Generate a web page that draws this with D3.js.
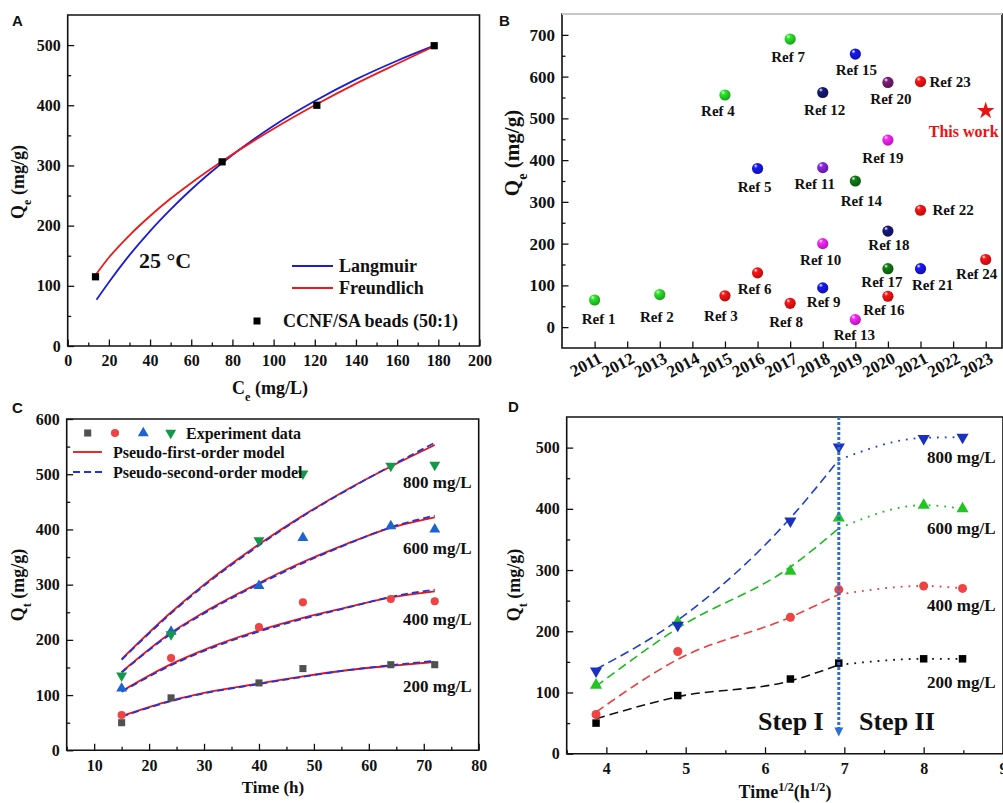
<!DOCTYPE html>
<html>
<head>
<meta charset="utf-8">
<script src="https://cdn.jsdelivr.net/npm/d3@7"></script>
<style>
body { margin: 0; background: #fff; }
</style>
</head>
<body>
<svg id="fig" width="1003" height="803"></svg>
<script>
const SERIF = '"Liberation Serif","Times New Roman",serif';
const SANS = '"Liberation Sans",Arial,sans-serif';

// ---------------- data ----------------
// A: adsorption isotherm at 25 °C
const isoCe = [13.5, 75, 121, 178];
const isoQe = [115, 306, 400, 499];
const fitCe = [14, 20, 30, 40, 50, 60, 75, 100, 120, 140, 160, 178];
const langmuirQe = [77, 106, 151, 191, 227, 260, 304, 366, 407, 443, 474, 499];
const freundlichQe = [120, 147, 184, 216, 245, 271, 307, 361, 400, 436, 469, 498];

// B: comparison with literature
const refNames = ['Ref 1', 'Ref 2', 'Ref 3', 'Ref 4', 'Ref 5', 'Ref 6', 'Ref 7', 'Ref 8',
  'Ref 9', 'Ref 10', 'Ref 11', 'Ref 12', 'Ref 13', 'Ref 14', 'Ref 15', 'Ref 16',
  'Ref 17', 'Ref 18', 'Ref 19', 'Ref 20', 'Ref 21', 'Ref 22', 'Ref 23', 'Ref 24'];
const refYears = [2011, 2013, 2015, 2015, 2016, 2016, 2017, 2017, 2018, 2018, 2018, 2018,
  2019, 2019, 2019, 2020, 2020, 2020, 2020, 2020, 2021, 2021, 2021, 2023];
const refQe = [65, 78, 75, 556, 380, 130, 690, 57, 94, 200, 382, 562,
  18, 350, 654, 74, 140, 230, 448, 586, 140, 280, 588, 162];
const thisWork = { year: 2023, qe: 518, label: 'This work' };
const yearTicks = ['2011', '2012', '2013', '2014', '2015', '2016', '2017', '2018',
  '2019', '2020', '2021', '2022', '2023'];

// C & D: adsorption kinetics
const concLabels = ['200 mg/L', '400 mg/L', '600 mg/L', '800 mg/L'];
const kinTime = [15, 24, 40, 48, 64, 72];
const kinSqrtTime = [3.87, 4.90, 6.32, 6.93, 8.00, 8.49];
const qt200 = [50, 95, 122, 148, 155, 155];
const qt400 = [64, 167, 223, 268, 274, 270];
const qt600 = [112, 215, 298, 385, 406, 400];
const qt800 = [135, 210, 380, 501, 515, 517];

const fitTime = [15, 24, 30, 40, 48, 56, 64, 72];
const pfo200 = [62, 90, 104, 121, 134, 145, 153, 160];
const pfo400 = [107, 156, 182, 217, 240, 259, 277, 288];
const pfo600 = [142, 213, 250, 303, 341, 374, 403, 422];
const pfo800 = [165, 250, 300, 373, 425, 472, 514, 553];
const pso200 = [61, 89, 103, 120, 133, 145, 154, 162];
const pso400 = [106, 154, 180, 215, 238, 258, 278, 291];
const pso600 = [141, 211, 248, 301, 339, 373, 404, 425];
const pso800 = [164, 248, 298, 371, 424, 471, 515, 557];

// D: intraparticle diffusion, step I (dashed) and step II (dotted)
const stepIx = [3.87, 4.90, 6.32, 6.93];
const stepI200 = [57, 93, 119, 145];
const stepI400 = [68, 154, 223, 260];
const stepI600 = [110, 205, 305, 368];
const stepI800 = [138, 218, 385, 480];
const stepIIx = [6.93, 8.00, 8.49];
const stepII200 = [145, 155, 155];
const stepII400 = [260, 274, 270];
const stepII600 = [368, 406, 400];
const stepII800 = [480, 516, 517];
const stepBoundary = 6.93;

// ---------------- styles / layout ----------------
const G = '#22cc22', R = '#ee1111', BL = '#1515dd', N = '#15156e',
      M = '#e61ee6', V = '#7a22cc', DG = '#0f6e12', P = '#6e1a6a';
const refColor = [G, G, R, G, BL, R, G, R, BL, M, V, N, M, DG, BL, R, DG, N, M, P, BL, R, R, R];
// label offset from its sphere: [dx, dy, anchor]
const refLabelShift = [[4, 19], [-3, 22], [-4, 20], [-7, 16], [-3, 18], [-3, 16], [-2, 18],
  [-4, 18], [1, 14], [-2, 16], [-8, 16], [2, 17], [-1, 15], [6, 20], [1, 16], [-4, 14],
  [-6, 13], [1, 14], [-5, 18], [3, 16], [12, 16], [12, 0, 'start'], [9, 0, 'start'], [-9, 14]];

const svg = d3.select('#fig');

// framed plot with inward major/minor ticks
function addAxes(g, x, y, o) {
  const bottom = y.range()[0], top = y.range()[1];
  const left = x.range()[0], right = x.range()[1];
  const style = function(sel) {
    sel.select('.domain').remove();
    sel.selectAll('line').attr('stroke', '#111').attr('stroke-width', 1.3);
    sel.selectAll('text').attr('font-family', SERIF).attr('font-weight', 'bold')
      .attr('font-size', o.fs || 16).attr('fill', '#111');
  };
  g.append('g').attr('transform', `translate(0,${bottom})`)
    .call(d3.axisBottom(x).tickValues(o.xMinor).tickSize(-3.5).tickFormat(() => ''))
    .call(style);
  const xa = g.append('g').attr('transform', `translate(0,${bottom})`)
    .call(d3.axisBottom(x).tickValues(o.xMajor).tickSize(-6.5).tickPadding(o.xPad || 9)
      .tickFormat(o.xFmt || (d => d)))
    .call(style);
  g.append('g').attr('transform', `translate(${left},0)`)
    .call(d3.axisLeft(y).tickValues(o.yMinor).tickSize(-3.5).tickFormat(() => ''))
    .call(style);
  g.append('g').attr('transform', `translate(${left},0)`)
    .call(d3.axisLeft(y).tickValues(o.yMajor).tickSize(-6.5).tickPadding(7).tickFormat(d => d))
    .call(style);
  g.append('path')
    .attr('d', `M${left},${top}H${right}V${bottom}H${left}Z`)
    .attr('fill', 'none').attr('stroke', '#111').attr('stroke-width', 1.6);
  if (o.topColor) {
    g.append('line').attr('x1', left).attr('x2', right).attr('y1', top).attr('y2', top)
      .attr('stroke', o.topColor).attr('stroke-width', 2);
  }
  return xa;
}

// text with sub/superscript parts: [[string, 'sub'|'super'|null], ...]
function richText(g, x, y, parts, fs, rotate) {
  const t = g.append('text')
    .attr('transform', `translate(${x},${y})` + (rotate ? ` rotate(${rotate})` : ''))
    .attr('text-anchor', 'middle')
    .attr('font-family', SERIF).attr('font-weight', 'bold').attr('font-size', fs)
    .attr('fill', '#111');
  parts.forEach(function(p) {
    const s = t.append('tspan').text(p[0]);
    if (p[1]) s.attr('baseline-shift', p[1]).attr('font-size', fs * 0.68);
  });
  return t;
}

function plainText(g, x, y, str, fs, anchor, color) {
  return g.append('text').attr('x', x).attr('y', y)
    .attr('text-anchor', anchor || 'start')
    .attr('font-family', SERIF).attr('font-weight', 'bold').attr('font-size', fs)
    .attr('fill', color || '#111').text(str);
}

function panelLetter(x, y, s) {
  svg.append('text').attr('x', x).attr('y', y)
    .attr('font-family', SANS).attr('font-weight', 'bold').attr('font-size', 15)
    .attr('fill', '#111').text(s);
}

const sym = function(type, size) { return d3.symbol().type(type).size(size)(); };

// ---------------- panel A ----------------
(function() {
  const g = svg.append('g');
  const x = d3.scaleLinear().domain([0, 200]).range([67.7, 479.5]);
  const y = d3.scaleLinear().domain([0, 550]).range([346, 15]);
  addAxes(g, x, y, {
    xMajor: d3.range(0, 201, 20), xMinor: d3.range(10, 200, 20),
    yMajor: d3.range(0, 501, 100), yMinor: d3.range(50, 550, 100)
  });
  const line = d3.line().x(d => x(d[0])).y(d => y(d[1])).curve(d3.curveMonotoneX);
  g.append('path').attr('d', line(d3.zip(fitCe, langmuirQe)))
    .attr('fill', 'none').attr('stroke', '#1c1cd6').attr('stroke-width', 1.8);
  g.append('path').attr('d', line(d3.zip(fitCe, freundlichQe)))
    .attr('fill', 'none').attr('stroke', '#ee1a1a').attr('stroke-width', 1.8);
  g.selectAll('rect.pt').data(d3.zip(isoCe, isoQe)).enter().append('rect')
    .attr('class', 'pt')
    .attr('x', d => x(d[0]) - 3.6).attr('y', d => y(d[1]) - 3.6)
    .attr('width', 7.2).attr('height', 7.2).attr('fill', '#000');

  plainText(g, 139, 268, '25 °C', 22);
  g.append('line').attr('x1', 292).attr('x2', 333).attr('y1', 266).attr('y2', 266)
    .attr('stroke', '#1c1cd6').attr('stroke-width', 1.8);
  plainText(g, 339, 272, 'Langmuir', 18);
  g.append('line').attr('x1', 292).attr('x2', 333).attr('y1', 288).attr('y2', 288)
    .attr('stroke', '#ee1a1a').attr('stroke-width', 1.8);
  plainText(g, 339, 294, 'Freundlich', 18);
  g.append('rect').attr('x', 253.5).attr('y', 317.5).attr('width', 7).attr('height', 7).attr('fill', '#000');
  plainText(g, 283, 327, 'CCNF/SA beads (50:1)', 18);

  richText(g, 24, 182, [['Q'], ['e', 'sub'], [' (mg/g)']], 18, -90);
  richText(g, 270, 394, [['C'], ['e', 'sub'], [' (mg/L)']], 18);
  panelLetter(12, 26, 'A');
})();

// ---------------- panel B ----------------
(function() {
  const g = svg.append('g');
  const x = d3.scaleLinear().domain([2010, 2023.5]).range([562, 1002]);
  const y = d3.scaleLinear().domain([-50, 750]).range([348, 14]);
  const xa = addAxes(g, x, y, {
    xMajor: yearTicks.map(Number), xMinor: [], xFmt: d => String(d),
    yMajor: d3.range(0, 701, 100), yMinor: d3.range(50, 701, 100),
    fs: 17, topColor: '#c8c8c8'
  });
  xa.selectAll('.tick text')
    .attr('text-anchor', 'end').attr('dy', null).attr('y', null)
    .attr('transform', 'translate(8,14) rotate(-28)');

  const defs = svg.append('defs');
  Array.from(new Set(refColor)).forEach(function(c, i) {
    const gr = defs.append('radialGradient').attr('id', 'ball' + c.slice(1))
      .attr('cx', '40%').attr('cy', '35%').attr('r', '65%').attr('fx', '32%').attr('fy', '26%');
    gr.append('stop').attr('offset', '0%').attr('stop-color', '#ffffff');
    gr.append('stop').attr('offset', '28%').attr('stop-color', d3.color(c).brighter(0.4));
    gr.append('stop').attr('offset', '100%').attr('stop-color', d3.color(c).darker(0.7));
  });

  const refs = refNames.map((n, i) => ({
    name: n, year: refYears[i], qe: refQe[i], color: refColor[i], shift: refLabelShift[i]
  }));
  g.selectAll('circle.ref').data(refs).enter().append('circle')
    .attr('class', 'ref')
    .attr('cx', d => x(d.year)).attr('cy', d => y(d.qe)).attr('r', 5.6)
    .attr('fill', d => `url(#ball${d.color.slice(1)})`);
  g.selectAll('text.ref').data(refs).enter().append('text')
    .attr('class', 'ref')
    .attr('x', d => x(d.year) + d.shift[0]).attr('y', d => y(d.qe) + d.shift[1])
    .attr('dy', '0.35em')
    .attr('text-anchor', d => d.shift[2] || 'middle')
    .attr('font-family', SERIF).attr('font-weight', 'bold').attr('font-size', 15)
    .attr('fill', '#111').text(d => d.name);

  g.append('path').attr('d', sym(d3.symbolStar, 95))
    .attr('transform', `translate(${x(thisWork.year)},${y(thisWork.qe)})`)
    .attr('fill', '#ee1111');
  plainText(g, x(thisWork.year) - 22, y(thisWork.qe) + 26, thisWork.label, 16, 'middle', '#ee1111');

  richText(g, 519, 153, [['Q'], ['e', 'sub'], [' (mg/g)']], 21, -90);
  panelLetter(499, 26, 'B');
})();

// ---------------- panel C ----------------
(function() {
  const g = svg.append('g');
  const x = d3.scaleLinear().domain([5, 80]).range([66.7, 478.7]);
  const y = d3.scaleLinear().domain([0, 600]).range([750.3, 419]);
  addAxes(g, x, y, {
    xMajor: d3.range(10, 81, 10), xMinor: d3.range(5, 80, 10),
    yMajor: d3.range(0, 601, 100), yMinor: d3.range(50, 600, 100)
  });
  const line = d3.line().x(d => x(d[0])).y(d => y(d[1])).curve(d3.curveMonotoneX);
  [pfo200, pfo400, pfo600, pfo800].forEach(function(s) {
    g.append('path').attr('d', line(d3.zip(fitTime, s)))
      .attr('fill', 'none').attr('stroke', '#ee1111').attr('stroke-width', 1.8);
  });
  [pso200, pso400, pso600, pso800].forEach(function(s) {
    g.append('path').attr('d', line(d3.zip(fitTime, s)))
      .attr('fill', 'none').attr('stroke', '#2233dd').attr('stroke-width', 1.8)
      .attr('stroke-dasharray', '7,4');
  });

  const marks = [
    { data: qt200, path: sym(d3.symbolSquare, 50), rot: 0, color: '#505050' },
    { data: qt400, path: sym(d3.symbolCircle, 52), rot: 0, color: '#ef4444' },
    { data: qt600, path: sym(d3.symbolTriangle, 52), rot: 0, color: '#1c64d2' },
    { data: qt800, path: sym(d3.symbolTriangle, 52), rot: 180, color: '#13984a' }
  ];
  marks.forEach(function(m) {
    g.selectAll(null).data(d3.zip(kinTime, m.data)).enter().append('path')
      .attr('d', m.path)
      .attr('transform', d => `translate(${x(d[0])},${y(d[1])}) rotate(${m.rot})`)
      .attr('fill', m.color);
  });

  // legend
  [87.7, 115, 143.3, 170.7].forEach(function(lx, i) {
    g.append('path').attr('d', marks[i].path)
      .attr('transform', `translate(${lx},433) rotate(${marks[i].rot})`)
      .attr('fill', marks[i].color);
  });
  plainText(g, 186, 438.5, 'Experiment data', 16);
  g.append('line').attr('x1', 73).attr('x2', 102).attr('y1', 452).attr('y2', 452)
    .attr('stroke', '#ee1111').attr('stroke-width', 1.8);
  plainText(g, 113, 458, 'Pseudo-first-order model', 16);
  g.append('line').attr('x1', 73).attr('x2', 102).attr('y1', 472).attr('y2', 472)
    .attr('stroke', '#2233dd').attr('stroke-width', 1.8).attr('stroke-dasharray', '7,4');
  plainText(g, 113, 478, 'Pseudo-second-order model', 16);

  const labelY = [686, 619, 548, 482];
  concLabels.forEach(function(c, i) {
    plainText(g, 403, labelY[i] + 6, c, 17);
  });

  richText(g, 24, 585, [['Q'], ['t', 'sub'], [' (mg/g)']], 18, -90);
  plainText(g, 273, 793, 'Time (h)', 17, 'middle');
  panelLetter(12, 413, 'C');
})();

// ---------------- panel D ----------------
(function() {
  const g = svg.append('g');
  const x = d3.scaleLinear().domain([3.5, 9]).range([566.7, 1003]);
  const y = d3.scaleLinear().domain([0, 550]).range([753.7, 417]);
  addAxes(g, x, y, {
    xMajor: d3.range(4, 10, 1), xMinor: d3.range(3.5, 9, 1),
    yMajor: d3.range(0, 501, 100), yMinor: d3.range(50, 550, 100)
  });
  const line = d3.line().x(d => x(d[0])).y(d => y(d[1])).curve(d3.curveMonotoneX);
  const series = [
    { data: qt200, s1: stepI200, s2: stepII200, color: '#111111', mark: '#000000', path: sym(d3.symbolSquare, 56), rot: 0 },
    { data: qt400, s1: stepI400, s2: stepII400, color: '#f03c3c', mark: '#ef4444', path: sym(d3.symbolCircle, 64), rot: 0 },
    { data: qt600, s1: stepI600, s2: stepII600, color: '#1dbb1d', mark: '#22c422', path: sym(d3.symbolTriangle, 64), rot: 0 },
    { data: qt800, s1: stepI800, s2: stepII800, color: '#1f3fd0', mark: '#1a30c0', path: sym(d3.symbolTriangle, 64), rot: 180 }
  ];
  series.forEach(function(s) {
    g.append('path').attr('d', line(d3.zip(stepIx, s.s1)))
      .attr('fill', 'none').attr('stroke', s.color).attr('stroke-width', 1.6)
      .attr('stroke-dasharray', '9,5');
    g.append('path').attr('d', line(d3.zip(stepIIx, s.s2)))
      .attr('fill', 'none').attr('stroke', s.color).attr('stroke-width', 1.8)
      .attr('stroke-dasharray', '1.8,6');
  });
  series.forEach(function(s) {
    g.selectAll(null).data(d3.zip(kinSqrtTime, s.data)).enter().append('path')
      .attr('d', s.path)
      .attr('transform', d => `translate(${x(d[0])},${y(d[1])}) rotate(${s.rot})`)
      .attr('fill', s.mark);
  });

  // boundary between the two steps
  const bx = x(stepBoundary);
  g.append('line').attr('x1', bx).attr('x2', bx).attr('y1', y(550)).attr('y2', y(38))
    .attr('stroke', '#2a6fd8').attr('stroke-width', 3).attr('stroke-dasharray', '3,2');
  g.append('path').attr('d', `M${bx - 4.5},${y(43)}L${bx + 4.5},${y(43)}L${bx},${y(28)}Z`)
    .attr('fill', '#2a6fd8');
  plainText(g, 758, 730, 'Step I', 26);
  plainText(g, 859, 730, 'Step II', 26);

  const labelY = [682, 605, 528, 457];
  concLabels.forEach(function(c, i) {
    plainText(g, 927, labelY[i] + 6, c, 17);
  });

  richText(g, 520, 585, [['Q'], ['t', 'sub'], [' (mg/g)']], 18, -90);
  richText(g, 785, 798, [['Time'], ['1/2', 'super'], ['(h'], ['1/2', 'super'], [')']], 18);
  panelLetter(508, 412, 'D');
})();
</script>
</body>
</html>
